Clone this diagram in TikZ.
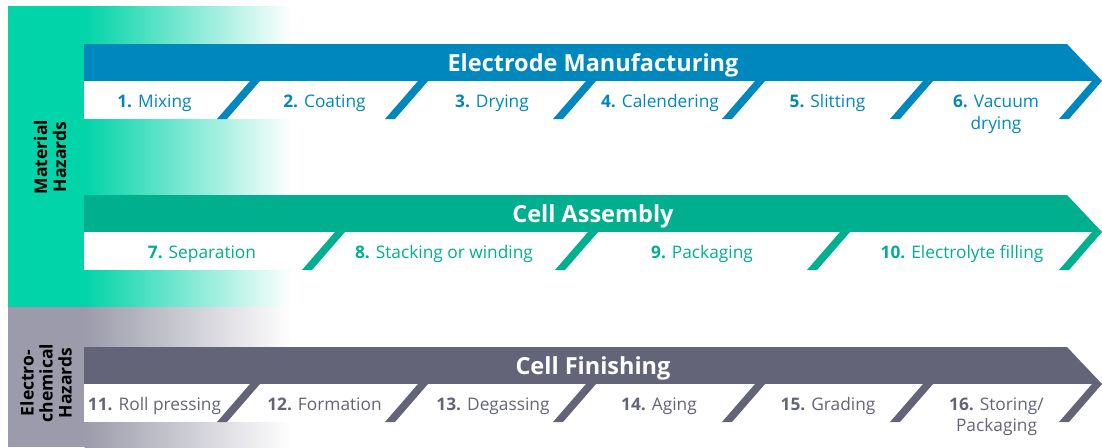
\documentclass[tikz,border=0pt]{standalone}
\usepackage{fontspec}
\setmainfont{Open Sans}

\definecolor{mfgblue}{HTML}{0087BE}
\definecolor{asmgreen}{HTML}{00AF8E}
\definecolor{fingray}{HTML}{646479}
\definecolor{hazgreen}{HTML}{00D4A8}
\definecolor{hazcyan}{HTML}{5CD8E0}
\definecolor{hazgray}{HTML}{9B9BAB}
\definecolor{hazgraymid}{HTML}{CACAD4}

\tikzset{
  steplabel/.style={inner sep=0pt, anchor=base, align=center, font=\fontsize{17.3}{21.5}\selectfont},
  header/.style={inner sep=0pt, anchor=base, text=white, font=\fontsize{23.5}{26}\selectfont\bfseries},
  hazard/.style={inner sep=0pt, rotate=90, align=center, font=\fontsize{17.5}{19}\selectfont\bfseries},
}

% one process band: arrow bar, white step strip and slanted separators
% #1 colour, #2 bar top, #3 list of separator left x positions
\newcommand\processband[3]{%
  \fill[#1] (84,#2) -- (1067,#2) -- (1102,#2+37) -- (84,#2+37) -- cycle;
  \fill[white] (84,#2+37) rectangle (1102,#2+75);
  \foreach \xb in {#3}{
    \fill[#1] (\xb,#2+75) -- (\xb+10,#2+75) -- (\xb+43,#2+37) -- (\xb+33,#2+37) -- cycle;
  }%
}

\begin{document}
\begin{tikzpicture}[x=1pt,y=-1pt]
\useasboundingbox (0,0) rectangle (1102,447);

% hazard panels on the left
\fill[hazgreen] (8,6) rectangle (85,307);
\shade[left color=hazgreen, middle color=hazcyan, right color=white] (84.5,6) rectangle (292,307);
\fill[hazgray] (8,307) rectangle (85,447);
\shade[left color=hazgray, middle color=hazgraymid, right color=white] (84.5,307) rectangle (292,447);

\node[hazard] (hazmat) at (50,157) {Material\\Hazards};
\node[hazard] (hazel) at (46,383) {Electro-\\chemical\\Hazards};

% electrode manufacturing (base anchor of a two-line label is its last line)
\processband{mfgblue}{44}{217,385,553,722,890,1059}
\node[header] (hdr1) at (593,71) {Electrode Manufacturing};
\begin{scope}[every node/.style={steplabel, text=mfgblue}]
  \node (s1) at (154.5,107.5) {\textbf{1.} Mixing};
  \node (s2) at (324.5,107.5) {\textbf{2.} Coating};
  \node (s3) at (492,107.5) {\textbf{3.} Drying};
  \node (s4) at (660,107.5) {\textbf{4.} Calendering};
  \node (s5) at (827.5,107.5) {\textbf{5.} Slitting};
  \node (s6) at (996,129) {\textbf{6.} Vacuum\\drying};
\end{scope}

% cell assembly
\processband{asmgreen}{195}{302,555,807,1059}
\node[header] (hdr2) at (593,222) {Cell Assembly};
\begin{scope}[every node/.style={steplabel, text=asmgreen}]
  \node (s7) at (202,258) {\textbf{7.} Separation};
  \node (s8) at (444,258) {\textbf{8.} Stacking or winding};
  \node (s9) at (702,258) {\textbf{9.} Packaging};
  \node (s10) at (962,258) {\textbf{10.} Electrolyte filling};
\end{scope}

% cell finishing
\processband{fingray}{347}{217,385,553,722,890,1059}
\node[header] (hdr3) at (593,374) {Cell Finishing};
\begin{scope}[every node/.style={steplabel, text=fingray}]
  \node (s11) at (154.5,410) {\textbf{11.} Roll pressing};
  \node (s12) at (324.5,410) {\textbf{12.} Formation};
  \node (s13) at (493,410) {\textbf{13.} Degassing};
  \node (s14) at (659,410) {\textbf{14.} Aging};
  \node (s15) at (828,410) {\textbf{15.} Grading};
  \node (s16) at (996.5,431.5) {\textbf{16.} Storing/\\Packaging};
\end{scope}
\end{tikzpicture}
\end{document}
